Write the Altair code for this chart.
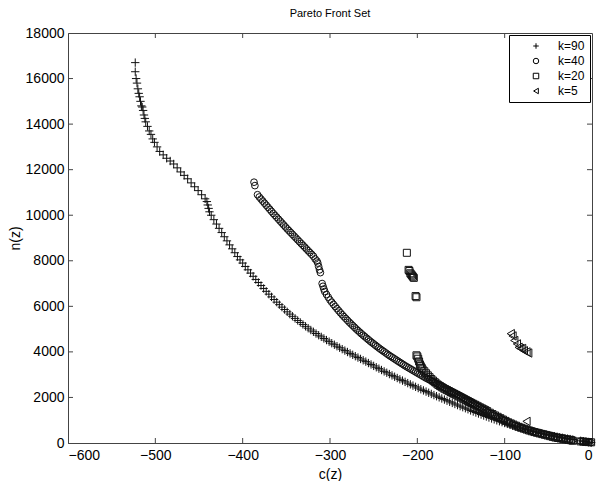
import altair as alt
import pandas as pd

# ---- data ----
k90_x = [-523, -523, -522, -521, -520, -519, -518, -517, -516, -515, -514, -513, -512, -511,
         -509, -507, -505, -503, -501, -498, -495, -491, -487, -483, -479, -475, -471, -467,
         -463, -459, -455, -451, -447, -443, -441, -440, -439, -438,
         -436, -433, -430, -427, -424, -421, -418, -415, -412, -409, -406, -403, -400,
         -397, -394, -391, -388, -385, -382, -379, -376, -373, -370, -367, -364, -361,
         -358, -355, -352, -349, -346, -343, -340, -337, -334, -331, -328, -325, -322,
         -319, -316, -313, -310, -307, -304, -301, -298, -295, -292, -289, -286, -283,
         -280, -277, -274, -271, -268, -265, -262, -259, -256, -253, -250, -247, -244,
         -241, -238, -235, -232, -229, -226, -223, -220, -217, -214, -211, -208, -205,
         -202, -199, -196, -193, -190, -187, -184, -181, -178, -175, -172, -169, -166,
         -163, -160, -157, -154, -151, -148, -145, -142, -139, -136, -133, -130, -127,
         -124, -121, -118, -115, -112, -109, -106, -103, -100, -97, -94, -91, -88, -85,
         -82, -79, -76, -73, -70, -67, -64, -61, -58, -55, -52, -49, -46, -43, -40, -37,
         -34, -31, -28, -25, -22, -13, -10, -7, -4, -1]
k90_y = [16700, 16300, 16000, 15800, 15550, 15350, 15200, 15000, 14800, 14750, 14600, 14400, 14250, 14100,
         13900, 13700, 13550, 13350, 13200, 13000, 12800, 12650, 12500, 12380, 12250, 12080, 11900, 11750,
         11600, 11420, 11250, 11080, 10900, 10720, 10600, 10450, 10300, 10150,
         10000, 9805, 9613, 9424, 9238, 9055, 8875, 8698, 8524, 8353, 8185, 8040, 7900,
         7750, 7603, 7459, 7318, 7180, 7045, 6913, 6784, 6658, 6535, 6415, 6298, 6184,
         6073, 5965, 5860, 5758, 5659, 5563, 5470, 5380, 5292, 5206, 5122, 5040, 4960,
         4882, 4806, 4732, 4660, 4589, 4519, 4450, 4382, 4315, 4249, 4184, 4120, 4057,
         3995, 3933, 3872, 3811, 3751, 3691, 3632, 3573, 3510, 3448, 3386, 3325, 3264,
         3204, 3144, 3085, 3026, 2968, 2910, 2853, 2796, 2740, 2684, 2629, 2574, 2520,
         2466, 2413, 2360, 2308, 2256, 2205, 2154, 2104, 2055, 2005, 1955, 1906, 1857,
         1809, 1761, 1713, 1666, 1619, 1573, 1527, 1482, 1430, 1384, 1339, 1294, 1250,
         1206, 1163, 1120, 1078, 1037, 996, 956, 917, 878, 840, 803, 767, 731, 696,
         662, 629, 597, 566, 535, 505, 476, 448, 421, 394, 368, 343, 319, 296, 274, 252,
         231, 211, 191, 172, 153, 96, 77, 58, 39, 20]

k40_x = [-387, -386, -383, -381, -379, -377, -375, -373, -371, -369, -367, -365, -363, -361,
         -359, -357, -355, -353, -351, -349, -347, -345, -343, -341, -339, -337, -335, -333,
         -331, -329, -327, -325, -323, -321, -319, -317, -315, -314, -313, -312, -311,
         -309, -308, -307, -306, -304, -302, -300, -298, -296, -294, -292, -290, -288, -286,
         -284, -282, -280, -278, -276, -274, -272, -270, -268, -266, -264, -262, -260, -258,
         -256, -254, -252, -250, -248, -246, -244, -242, -240, -238, -236, -234, -232, -230,
         -228, -226, -224, -222, -220, -218, -216, -214, -212, -210, -208, -206, -204, -202,
         -200, -198, -196, -194, -192, -190, -188, -186, -184, -182, -180, -178, -176, -174,
         -172, -170, -168, -166, -164, -162, -160, -158, -156, -154, -152, -150, -148, -146,
         -144, -142, -140, -138, -136, -134, -132, -130, -128, -126, -124, -122, -120, -118,
         -116, -114, -112, -110, -108, -106, -104, -102, -100, -97, -94, -91, -88, -85, -82,
         -79, -76, -73, -70, -67, -64, -61, -58, -55, -52, -49, -46, -43, -40, -37, -34, -31,
         -28, -25, -22, -13, -10, -7, -4, -1]
k40_y = [11450, 11300, 10900, 10800, 10710, 10620, 10530, 10440, 10350, 10260, 10170, 10080, 9995, 9910,
         9825, 9740, 9655, 9570, 9485, 9400, 9320, 9240, 9160, 9080, 9000, 8920, 8840, 8760,
         8680, 8600, 8520, 8440, 8360, 8280, 8200, 8080, 7990, 7900, 7750, 7600, 7480,
         7000, 6880, 6760, 6650, 6520, 6400, 6280, 6180, 6085, 5990, 5895, 5805, 5715, 5630,
         5545, 5465, 5385, 5305, 5230, 5155, 5080, 5005, 4935, 4865, 4795, 4730, 4665, 4600,
         4535, 4470, 4410, 4350, 4290, 4230, 4170, 4115, 4060, 4005, 3950, 3895, 3840, 3790,
         3740, 3690, 3640, 3590, 3540, 3490, 3440, 3390, 3345, 3300, 3255, 3210, 3165, 3120,
         3075, 3030, 2985, 2940, 2895, 2850, 2810, 2770, 2730, 2690, 2650, 2610, 2570, 2530,
         2490, 2450, 2410, 2370, 2330, 2290, 2250, 2210, 2170, 2130, 2090, 2050, 2005, 1960,
         1915, 1870, 1825, 1780, 1735, 1690, 1645, 1600, 1555, 1510, 1465, 1420, 1380, 1340,
         1300, 1260, 1220, 1180, 1140, 1100, 1065, 1030, 995, 935, 880, 830, 780, 735, 690,
         650, 610, 575, 540, 505, 475, 445, 415, 390, 365, 340, 315, 290, 265, 245, 225, 200,
         180, 160, 140, 80, 65, 50, 35, 20]

k20_x = [-212, -210, -209, -208, -207, -206, -205, -204, -202, -201, -201, -200, -199, -198,
         -197, -196, -195, -194, -192, -190, -188, -186, -184, -182, -180, -178, -176, -174,
         -172, -170, -168, -166, -164, -162, -160, -158, -156, -154, -152, -150, -148, -146,
         -144, -142, -140, -138, -136, -134, -132, -130, -128, -126, -124, -122, -120, -117,
         -114, -111, -108, -105, -102, -99, -96, -93, -90, -87, -84, -81, -78, -75, -72, -69,
         -66, -63, -60, -57, -54, -51, -48, -45, -42, -39, -36, -33, -30, -27, -24, -22,
         -13, -10, -7, -4, -1]
k20_y = [8350, 7600, 7550, 7450, 7400, 7350, 7300, 7250, 6450, 6400, 3850, 3800, 3700, 3580,
         3450, 3370, 3300, 3230, 3150, 3060, 2970, 2890, 2810, 2740, 2670, 2610, 2550, 2500,
         2450, 2400, 2360, 2320, 2280, 2240, 2200, 2160, 2120, 2080, 2040, 2000, 1960, 1920,
         1880, 1840, 1800, 1760, 1720, 1680, 1640, 1600, 1560, 1520, 1480, 1440, 1400, 1330,
         1270, 1210, 1150, 1090, 1030, 970, 910, 860, 810, 760, 710, 670, 630, 590, 550, 515,
         480, 450, 420, 390, 360, 330, 300, 270, 240, 220, 200, 180, 160, 140, 120, 100,
         70, 60, 50, 40, 30]

k5_x = [-93, -91, -89, -86, -84, -82, -80, -78, -75, -73, -75]
k5_y = [4800, 4700, 4500, 4350, 4200, 4150, 4150, 4050, 4000, 3950, 950]

series_names = ["k=90", "k=40", "k=20", "k=5"]
x_labels = [-600, -500, -400, -300, -200, -100, 0]
y_labels = [0, 2000, 4000, 6000, 8000, 10000, 12000, 14000, 16000, 18000]
x_ticks = x_labels[1:-1]
y_ticks = y_labels[1:-1]

W, H = 524, 410
FRAME = "#444444"
FONT = "Liberation Sans"
INK = "#111111"

xscale = alt.Scale(domain=[-600, 0], nice=False, zero=False)
yscale = alt.Scale(domain=[0, 18000], nice=False)

cross = "M-1,0L1,0M0,-1L0,1"
shape_scale = alt.Scale(domain=series_names,
                        range=[cross, "circle", "square", "triangle-left"])
legend = alt.Legend(title=None, orient="top-right", offset=2,
                    strokeColor="#000", fillColor="white", padding=5,
                    symbolOffset=16, symbolSize=30, symbolStrokeWidth=1,
                    symbolStrokeColor="#000", symbolFillColor="white",
                    labelFontSize=12, labelFont=FONT, labelColor="#000",
                    rowPadding=3, labelOffset=16, cornerRadius=0)

x_enc = alt.X("c:Q", scale=xscale,
              axis=alt.Axis(title="c(z)", values=x_labels, format="d", ticks=False,
                            labelPadding=5, titlePadding=5))
y_enc = alt.Y("n:Q", scale=yscale,
              axis=alt.Axis(title="n(z)", values=y_labels, format="d", ticks=False,
                            labelPadding=4, titlePadding=3))

sizes = [70, 45, 49, 70]
layers = []
for name, xs, ys, sz in zip(series_names, [k90_x, k40_x, k20_x, k5_x],
                            [k90_y, k40_y, k20_y, k5_y], sizes):
    d = pd.DataFrame({"c": xs, "n": ys, "k": [name] * len(xs)})
    layers.append(
        alt.Chart(d).mark_point(filled=False, strokeWidth=1, size=sz, color=INK, opacity=1)
        .encode(x=x_enc, y=y_enc, shape=alt.Shape("k:N", scale=shape_scale, legend=legend))
    )

xt = pd.DataFrame({"v": x_ticks})
yt = pd.DataFrame({"v": y_ticks})
tick_top = alt.Chart(xt).mark_rule(color=FRAME).encode(
    x=alt.X("v:Q", scale=xscale), y=alt.value(0), y2=alt.value(5))
tick_bot = alt.Chart(xt).mark_rule(color=FRAME).encode(
    x=alt.X("v:Q", scale=xscale), y=alt.value(H - 5), y2=alt.value(H))
tick_left = alt.Chart(yt).mark_rule(color=FRAME).encode(
    y=alt.Y("v:Q", scale=yscale), x=alt.value(0), x2=alt.value(5))
tick_right = alt.Chart(yt).mark_rule(color=FRAME).encode(
    y=alt.Y("v:Q", scale=yscale), x=alt.value(W - 5), x2=alt.value(W))

chart = alt.layer(*layers, tick_top, tick_bot, tick_left, tick_right).properties(
    width=W, height=H, padding=0,
    title=alt.TitleParams("Pareto Front Set", fontSize=11, fontWeight="normal",
                          font=FONT, color="#000", offset=7),
).configure_view(stroke=FRAME, strokeWidth=1).configure_axis(
    domainColor=FRAME, grid=False, labelFont=FONT, labelFontSize=14,
    labelColor="#000", titleFont=FONT, titleFontSize=14,
    titleFontWeight="normal", titleColor="#000",
)

chart.save("out.html", embed_options={"renderer": "svg", "actions": False})
